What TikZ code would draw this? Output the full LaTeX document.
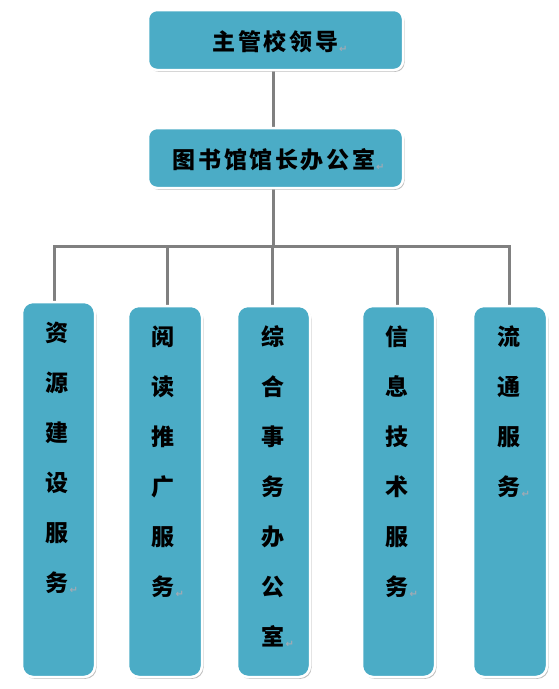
\documentclass[tikz,border=0pt]{standalone}
\usepackage{fontspec}
\usetikzlibrary{shadows}
\newfontfamily\cjk{Noto Sans CJK SC}
\newfontfamily\dejavu{DejaVu Sans}
\definecolor{boxfill}{RGB}{75,172,198}
\definecolor{conngray}{RGB}{128,128,128}
\definecolor{retgray}{RGB}{160,170,180}
\newcommand\retmark{\rlap{\hspace{1pt}\raisebox{-2pt}{\dejavu\fontsize{10}{10}\selectfont\color{retgray}↵}}}
\newcommand\gp{\kern2.6pt}
\pgfdeclarelayer{bg}
\pgfsetlayers{bg,main}
\tikzset{
  orgbox/.style={rectangle, rounded corners=#1, fill=boxfill, draw=white, line width=2.5pt,
    inner sep=0pt,
    drop shadow={shadow xshift=1.5pt, shadow yshift=-1.8pt, fill=black!45, opacity=0.55}},
  ch/.style={inner sep=0pt, text height=20.2pt, text depth=2.8pt,
    font=\cjk\bfseries\fontsize{23}{23}\selectfont},
  conn/.style={draw=conngray, line width=3pt}
}
\begin{document}
\begin{tikzpicture}[x=1pt,y=-1pt]
\useasboundingbox (0,0) rectangle (558,689);
% top boxes
\node[orgbox=9pt, minimum width=255pt, minimum height=60pt] (top) at (275.5,40) {};
\node[ch] (toptext) at (275.5,42) {主\gp 管\gp 校\gp 领\gp 导\retmark};
\node[orgbox=9pt, minimum width=255pt, minimum height=60pt] (mid) at (275.5,158) {};
\node[ch] (midtext) at (274,160) {图\gp 书\gp 馆\gp 馆\gp 长\gp 办\gp 公\gp 室\retmark};
% bottom boxes
\node[orgbox=11pt, minimum width=73pt, minimum height=375pt] (b1) at (58.5,489.5) {};
\node[orgbox=11pt, minimum width=74pt, minimum height=371pt] (b2) at (165,491.5) {};
\node[orgbox=11pt, minimum width=73pt, minimum height=371pt] (b3) at (273.5,491.5) {};
\node[orgbox=11pt, minimum width=73pt, minimum height=371pt] (b4) at (398.5,491.5) {};
\node[orgbox=11pt, minimum width=74pt, minimum height=371pt] (b5) at (510,491.5) {};
% vertical texts
\foreach \c [count=\i] in {资,源,建,设,服}
  \node[ch] (t1c\i) at (57,333+50*\i-50) {\c};
\node[ch] (t1c6) at (57,583) {务\retmark};
\foreach \c [count=\i] in {阅,读,推,广,服}
  \node[ch] (t2c\i) at (163,337+50*\i-50) {\c};
\node[ch] (t2c6) at (163,587) {务\retmark};
\foreach \c [count=\i] in {综,合,事,务,办,公}
  \node[ch] (t3c\i) at (273,337+50*\i-50) {\c};
\node[ch] (t3c7) at (273,637) {室\retmark};
\foreach \c [count=\i] in {信,息,技,术,服}
  \node[ch] (t4c\i) at (397,337+50*\i-50) {\c};
\node[ch] (t4c6) at (397,587) {务\retmark};
\foreach \c [count=\i] in {流,通,服}
  \node[ch] (t5c\i) at (509,337+50*\i-50) {\c};
\node[ch] (t5c4) at (509,487) {务\retmark};
% connectors
\coordinate (j) at (273,246);
\coordinate (d1) at (54,246);
\coordinate (d2) at (167,246);
\coordinate (d3) at (272,246);
\coordinate (d4) at (397,246);
\coordinate (d5) at (509,246);
\begin{pgfonlayer}{bg}
\draw[conn] (top.south -| j) -- (mid.north -| j);
\draw[conn] (mid.south -| j) -- (j);
\draw[conn, line cap=rect] (d1) -- (d5);
\draw[conn] (d1) -- (d1 |- b1.north);
\draw[conn] (d2) -- (d2 |- b2.north);
\draw[conn] (d3) -- (d3 |- b3.north);
\draw[conn] (d4) -- (d4 |- b4.north);
\draw[conn] (d5) -- (d5 |- b5.north);
\end{pgfonlayer}
\end{tikzpicture}
\end{document}
